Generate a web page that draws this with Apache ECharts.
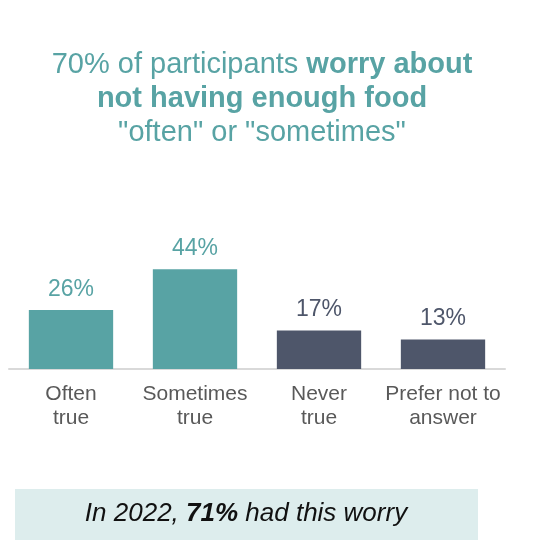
<!DOCTYPE html>
<html lang="en">
<head>
    <meta charset="UTF-8">
    <title>Worry about food</title>
    <style>
        html, body {
            margin: 0;
            padding: 0;
            background-color: #fff;
        }
        #chart {
            width: 560px;
            height: 554px;
        }
    </style>
</head>
<body>
<div id="chart"></div>
<script src="https://cdn.jsdelivr.net/npm/echarts@6/dist/echarts.min.js"></script>
<script>
    var categories = ['Often\ntrue', 'Sometimes\ntrue', 'Never\ntrue', 'Prefer not to\nanswer'];
    var values = [26, 44, 17, 13];
    var barColors = ['#58a3a4', '#58a3a4', '#4e566a', '#4e566a'];

    var teal = '#58a3a4';
    var font = 'Liberation Sans, Arial, sans-serif';

    var seriesData = values.map(function (v, i) {
        return {
            value: v,
            itemStyle: {color: barColors[i]},
            label: {color: barColors[i]}
        };
    });

    var myChart = echarts.init(document.getElementById('chart'));
    var option = {
        animation: false,
        title: {
            text: '{r|70% of participants }{b|worry about}\n{b|not having enough food}\n{r|"often" or "sometimes"}',
            left: 257,
            top: 43,
            textAlign: 'center',
            textStyle: {
                fontWeight: 'normal',
                rich: {
                    r: {fontSize: 29, lineHeight: 34, color: teal, fontFamily: font, fontWeight: 'normal'},
                    b: {fontSize: 29, lineHeight: 34, color: teal, fontFamily: font, fontWeight: 'bold'}
                }
            }
        },
        grid: {
            left: 9,
            right: 55,
            top: 233,
            bottom: 185,
            containLabel: false
        },
        xAxis: {
            type: 'category',
            data: categories,
            axisTick: {show: false},
            axisLine: {lineStyle: {color: '#d9d9d9', width: 2}},
            axisLabel: {
                margin: 13,
                fontSize: 21,
                lineHeight: 24,
                color: '#595959',
                fontFamily: font,
                interval: 0
            }
        },
        yAxis: {
            type: 'value',
            min: 0,
            max: 60,
            show: false,
            splitLine: {show: false}
        },
        series: [{
            type: 'bar',
            barWidth: '68%',
            data: seriesData,
            label: {
                show: true,
                position: 'top',
                distance: 9,
                fontSize: 23,
                fontFamily: font,
                formatter: '{c}%'
            }
        }],
        graphic: [
            {
                type: 'rect',
                left: 15,
                top: 489,
                shape: {width: 463, height: 51},
                style: {fill: '#ddeded'}
            },
            {
                type: 'text',
                x: 246,
                y: 514,
                style: {
                    text: '{i|In 2022, }{b|71%}{i| had this worry}',
                    align: 'center',
                    verticalAlign: 'middle',
                    rich: {
                        i: {fontSize: 26, fontStyle: 'italic', fill: '#111', fontFamily: font},
                        b: {fontSize: 26, fontStyle: 'italic', fontWeight: 'bold', fill: '#111', fontFamily: font}
                    }
                }
            }
        ]
    };
    myChart.setOption(option);
</script>
</body>
</html>
